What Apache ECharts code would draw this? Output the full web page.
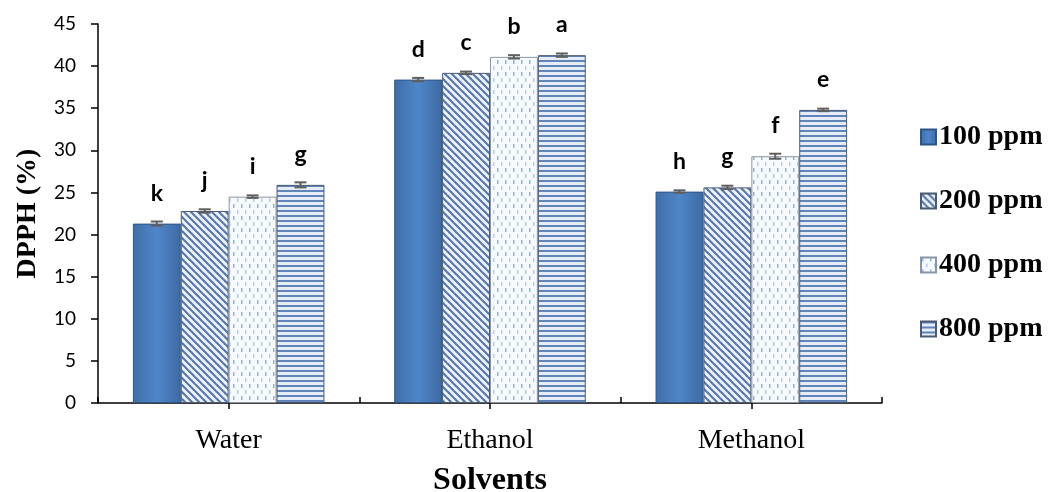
<!DOCTYPE html>
<html>
<head>
<meta charset="utf-8">
<script src="https://cdn.jsdelivr.net/npm/echarts@6/dist/echarts.min.js"></script>
<style>
html,body{margin:0;padding:0;background:#fff;}
#chart{width:1048px;height:492px;}
</style>
</head>
<body>
<div id="chart"></div>
<script>
var categories = ['Water', 'Ethanol', 'Methanol'];
var seriesNames = ['100 ppm', '200 ppm', '400 ppm', '800 ppm'];
var values100 = [21.3, 38.4, 25.1];
var values200 = [22.8, 39.2, 25.6];
var values400 = [24.5, 41.1, 29.3];
var values800 = [25.9, 41.3, 34.8];
var errors100 = [0.25, 0.2, 0.15];
var errors200 = [0.2, 0.15, 0.2];
var errors400 = [0.15, 0.2, 0.3];
var errors800 = [0.3, 0.2, 0.15];
var letters100 = ['k', 'd', 'h'];
var letters200 = ['j', 'c', 'g'];
var letters400 = ['i', 'b', 'f'];
var letters800 = ['g', 'a', 'e'];
var yTicks = [0, 5, 10, 15, 20, 25, 30, 35, 40, 45];

var allValues = [values100, values200, values400, values800];
var allErrors = [errors100, errors200, errors400, errors800];
var allLetters = [letters100, letters200, letters400, letters800];

function makeCanvas(w, h, draw) {
  var c = document.createElement('canvas');
  c.width = w; c.height = h;
  var ctx = c.getContext('2d');
  draw(ctx, w, h);
  return c;
}
var diagPattern = makeCanvas(7, 7, function (ctx, w, h) {
  ctx.fillStyle = '#eef4fb';
  ctx.fillRect(0, 0, w, h);
  ctx.strokeStyle = '#5a78ab';
  ctx.lineWidth = 2.2;
  for (var x = -w; x <= w; x += w) {
    ctx.beginPath();
    ctx.moveTo(x - 1, -1);
    ctx.lineTo(x + w + 1, h + 1);
    ctx.stroke();
  }
});
var dashPattern = makeCanvas(8, 12, function (ctx, w, h) {
  ctx.fillStyle = '#f7fafd';
  ctx.fillRect(0, 0, w, h);
  ctx.fillStyle = '#8fb2e0';
  ctx.fillRect(1, 0, 1.5, 4);
  ctx.fillStyle = '#b5cdea';
  ctx.fillRect(5, 6, 1.5, 4);
});
var hPattern = makeCanvas(2, 5, function (ctx, w, h) {
  ctx.fillStyle = '#e4edf8';
  ctx.fillRect(0, 0, w, h);
  ctx.fillStyle = '#6184bb';
  ctx.fillRect(0, 0, w, 2);
});

var solidColor = {
  type: 'linear', x: 0, y: 0, x2: 1, y2: 0,
  colorStops: [
    {offset: 0, color: '#3f6ea8'},
    {offset: 0.5, color: '#4f86c8'},
    {offset: 1, color: '#3d6aa3'}
  ]
};
var fills = [
  solidColor,
  {image: diagPattern, repeat: 'repeat'},
  {image: dashPattern, repeat: 'repeat'},
  {image: hPattern, repeat: 'repeat'}
];
var borders = ['#2f5586', '#4b5a70', '#8a96a6', '#4b5a70'];

var barCatGap = 0.267;

var series = [];
seriesNames.forEach(function (name, i) {
  series.push({
    name: name,
    type: 'bar',
    barGap: '0%',
    barCategoryGap: (barCatGap * 100) + '%',
    data: allValues[i],
    itemStyle: {color: fills[i], borderColor: borders[i], borderWidth: 1},
    label: {
      show: true,
      position: 'top',
      distance: 19,
      formatter: function (p) { return allLetters[i][p.dataIndex]; },
      fontFamily: 'Lato',
      fontWeight: 'bold',
      fontSize: 23,
      color: '#000'
    },
    z: 2
  });
});
seriesNames.forEach(function (name, i) {
  series.push({
    type: 'custom',
    name: name + ' err',
    data: allValues[i].map(function (v, k) { return [k, v, allErrors[i][k]]; }),
    encode: {x: 0, y: 1},
    renderItem: function (params, api) {
      var k = api.value(0), v = api.value(1), e = api.value(2);
      var catW = api.size([1, 0])[0];
      var bw = catW * (1 - barCatGap) / 4;
      var center = api.coord([k, v]);
      var cx = center[0] + (i - 1.5) * bw;
      var top = api.coord([k, v + e])[1];
      var bot = api.coord([k, v - e])[1];
      var hw = 6;
      var st = {stroke: '#5f5f5f', lineWidth: 2};
      return {
        type: 'group',
        children: [
          {type: 'line', shape: {x1: cx, y1: top, x2: cx, y2: bot}, style: st},
          {type: 'line', shape: {x1: cx - hw, y1: top, x2: cx + hw, y2: top}, style: st},
          {type: 'line', shape: {x1: cx - hw, y1: bot, x2: cx + hw, y2: bot}, style: st}
        ]
      };
    },
    z: 5,
    silent: true
  });
});

var chart = echarts.init(document.getElementById('chart'));
chart.setOption({
  animation: false,
  backgroundColor: '#fff',
  grid: {left: 98, right: 166, top: 24, bottom: 89, containLabel: false, outerBoundsMode: 'none'},
  legend: {
    data: seriesNames,
    orient: 'vertical',
    left: 915,
    top: 118,
    itemWidth: 15,
    itemHeight: 15,
    itemGap: 36,
    icon: 'rect',
    textStyle: {fontFamily: 'Liberation Serif', fontWeight: 'bold', fontSize: 28, color: '#000', padding: [0, 0, 0, -2]}
  },
  xAxis: [{
    type: 'category',
    data: categories,
    name: 'Solvents',
    nameLocation: 'middle',
    nameGap: 62,
    nameTextStyle: {fontFamily: 'Liberation Serif', fontWeight: 'bold', fontSize: 32, color: '#000'},
    axisLine: {show: true, lineStyle: {color: '#000', width: 1.5}},
    axisTick: {show: true, alignWithLabel: true, inside: false, length: 6, lineStyle: {color: '#000', width: 1.5}},
    axisLabel: {margin: 24, fontFamily: 'Liberation Serif', fontSize: 28, color: '#000'},
    splitLine: {show: false}
  }, {
    type: 'category',
    data: categories,
    position: 'bottom',
    axisLine: {show: false},
    axisTick: {show: true, alignWithLabel: false, inside: true, length: 6, lineStyle: {color: '#000', width: 1.5}},
    axisLabel: {show: false},
    splitLine: {show: false}
  }],
  yAxis: {
    type: 'value',
    min: 0,
    max: 45,
    interval: 5,
    name: 'DPPH (%)',
    nameLocation: 'middle',
    nameGap: 56,
    nameRotate: 90,
    nameTextStyle: {fontFamily: 'Liberation Serif', fontWeight: 'bold', fontSize: 28, color: '#000'},
    axisLine: {show: true, lineStyle: {color: '#000', width: 1.5}},
    axisTick: {show: true, length: 7, lineStyle: {color: '#000', width: 1.5}},
    axisLabel: {
      margin: 22, fontFamily: 'Lato', fontSize: 19, color: '#000',
      formatter: function (v) { return yTicks.indexOf(v) >= 0 ? String(v) : ''; }
    },
    splitLine: {show: false}
  },
  series: series
});
</script>
</body>
</html>
